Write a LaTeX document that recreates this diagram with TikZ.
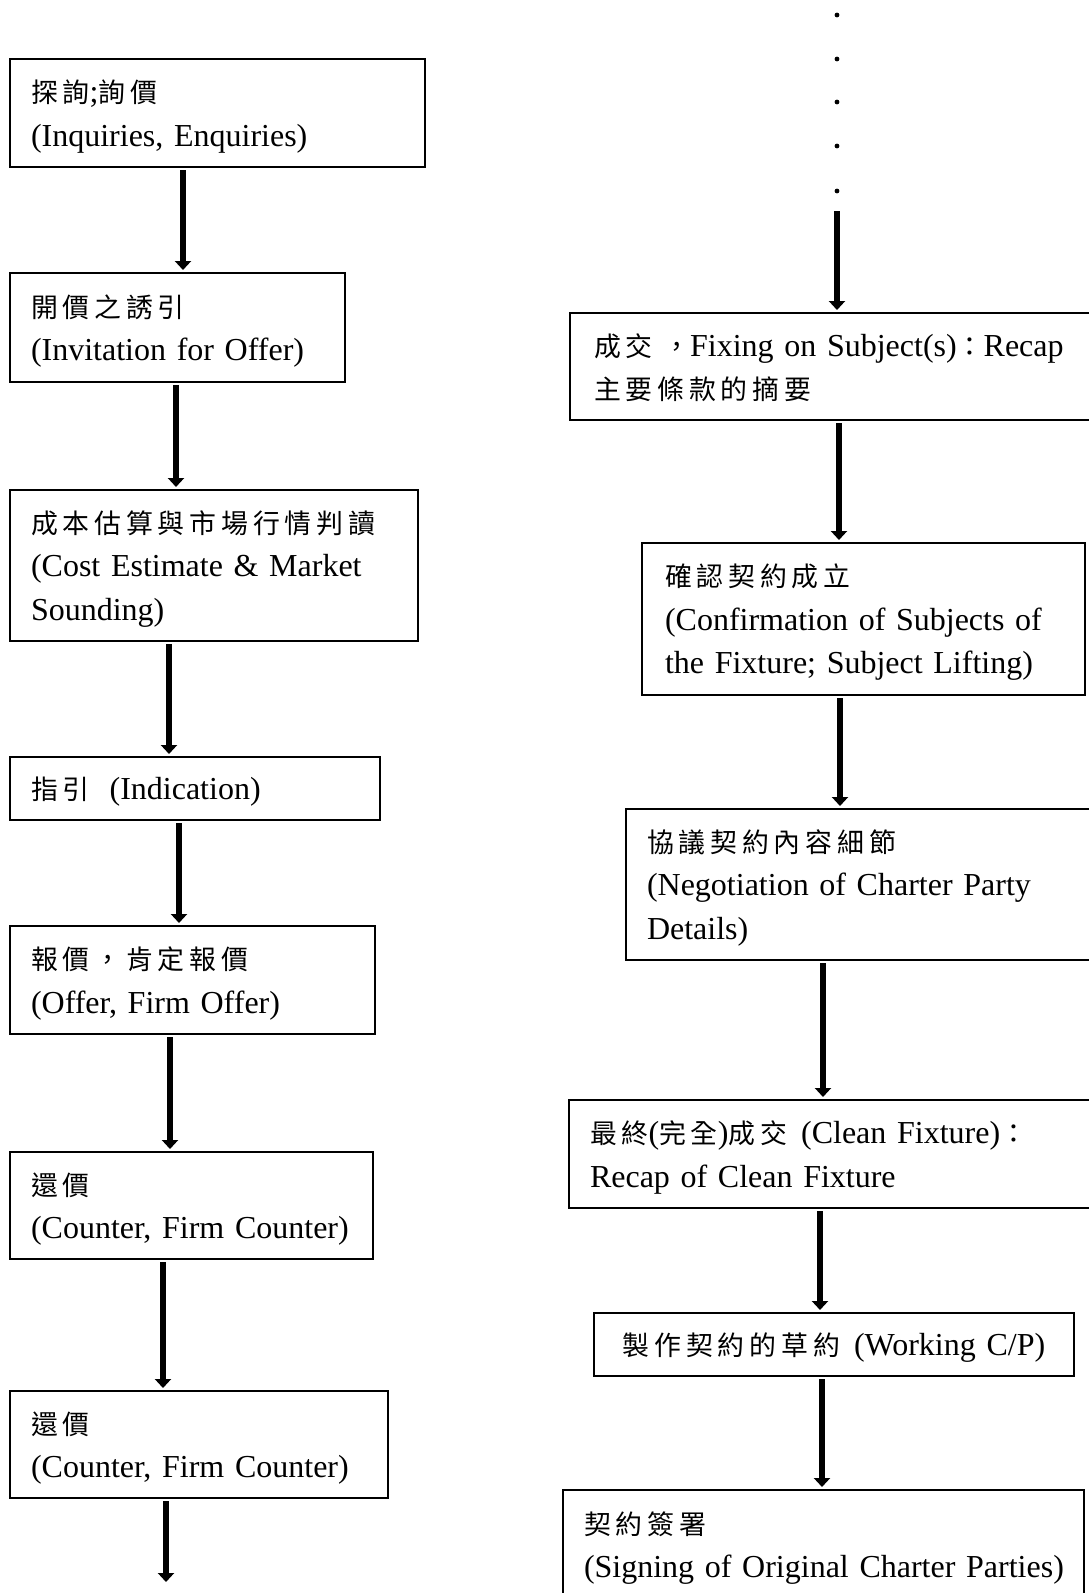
\documentclass[tikz,border=0pt]{standalone}
\usepackage{fontspec}
\setmainfont{Liberation Serif}
\newfontfamily\zhfont[Scale=0.84,LetterSpace=18]{Noto Sans CJK TC}
\usetikzlibrary{arrows.meta}
\newcommand{\zh}[1]{{\zhfont #1}}
\newcommand{\rowtxt}[1]{\mbox{\rule[-10.5pt]{0pt}{43.5pt}#1}}
\begin{document}
\begin{tikzpicture}[x=1pt,y=-1pt,
  box/.style={draw=black, line width=2pt, anchor=north west, align=left,
    inner ysep=0pt, inner xsep=21pt, font=\fontsize{32}{43.5}\selectfont},
  arr/.style={line width=6pt, -{Triangle[width=16pt,length=9pt]},
    shorten <=2pt, shorten >=2pt}]
\useasboundingbox (0,0) rectangle (1089,1593);
\clip (0,0) rectangle (1089,1593);
\fill[white] (0,0) rectangle (1089,1593);

% left column
\node[box, text width=373pt, minimum height=108pt] (b1) at (9,58)
  {\rowtxt{\zh{探詢};\zh{詢價}}\\\rowtxt{(Inquiries, Enquiries)}};
\node[box, text width=293pt, minimum height=109pt] (b2) at (9,272)
  {\rowtxt{\zh{開價之誘引}}\\\rowtxt{(Invitation for Offer)}};
\node[box, text width=366pt, minimum height=151pt] (b3) at (9,489)
  {\rowtxt{\zh{成本估算與市場行情判讀}}\\\rowtxt{(Cost Estimate \& Market}\\\rowtxt{Sounding)}};
\node[box, text width=328pt, minimum height=63pt] (b4) at (9,756)
  {\rowtxt{\zh{指引}\hspace{20pt}(Indication)}};
\node[box, text width=323pt, minimum height=108pt] (b5) at (9,925)
  {\rowtxt{\zh{報價，肯定報價}}\\\rowtxt{(Offer, Firm Offer)}};
\node[box, text width=321pt, minimum height=107pt] (b6) at (9,1151)
  {\rowtxt{\zh{還價}}\\\rowtxt{(Counter, Firm Counter)}};
\node[box, text width=336pt, minimum height=107pt] (b7) at (9,1390)
  {\rowtxt{\zh{還價}}\\\rowtxt{(Counter, Firm Counter)}};

% right column
\node[box, inner xsep=24pt, text width=492pt, minimum height=107pt] (r1) at (569,312)
  {\rowtxt{\zh{成交 ，}Fixing on Subject(s)\zh{：}Recap}\\\rowtxt{\zh{主要條款的摘要}}};
\node[box, inner xsep=23pt, text width=397pt, minimum height=152pt] (r2) at (641,542)
  {\rowtxt{\zh{確認契約成立}}\\\rowtxt{(Confirmation of Subjects of}\\\rowtxt{the Fixture; Subject Lifting)}};
\node[box, text width=438pt, minimum height=151pt] (r3) at (625,808)
  {\rowtxt{\zh{協議契約內容細節}}\\\rowtxt{(Negotiation of Charter Party}\\\rowtxt{Details)}};
\node[box, text width=498pt, minimum height=108pt] (r4) at (568,1099)
  {\rowtxt{\zh{最終}(\zh{完全})\zh{成交}\hspace{14pt}(Clean Fixture)\zh{：}}\\\rowtxt{Recap of Clean Fixture}};
\node[box, inner xsep=20pt, text width=440pt, align=center, minimum height=63pt] (r5) at (593,1312)
  {\rowtxt{\zh{製作契約的草約}\hspace{14pt}(Working C/P)}};
\node[box, text width=479pt, minimum height=109pt] (r6) at (562,1489)
  {\rowtxt{\zh{契約簽署}}\\\rowtxt{(Signing of Original Charter Parties)}};

% arrow columns
\coordinate (xa) at (183,0);
\coordinate (xb) at (176,0);
\coordinate (xc) at (169,0);
\coordinate (xd) at (179,0);
\coordinate (xe) at (170,0);
\coordinate (xf) at (163,0);
\coordinate (lend) at (166,1582);
\coordinate (rtop) at (837,211);
\coordinate (xg) at (839,0);
\coordinate (xh) at (840,0);
\coordinate (xi) at (823,0);
\coordinate (xj) at (820,0);
\coordinate (xk) at (822,0);

\draw[arr] (b1.south -| xa) -- (b2.north -| xa);
\draw[arr] (b2.south -| xb) -- (b3.north -| xb);
\draw[arr] (b3.south -| xc) -- (b4.north -| xc);
\draw[arr] (b4.south -| xd) -- (b5.north -| xd);
\draw[arr] (b5.south -| xe) -- (b6.north -| xe);
\draw[arr] (b6.south -| xf) -- (b7.north -| xf);
\draw[arr, shorten >=0pt] (b7.south -| lend) -- (lend);

\foreach \yy in {15,59,102,146,191} \fill (837,\yy) circle (2.4pt);
\draw[arr, shorten <=0pt] (rtop) -- (r1.north -| rtop);
\draw[arr] (r1.south -| xg) -- (r2.north -| xg);
\draw[arr] (r2.south -| xh) -- (r3.north -| xh);
\draw[arr] (r3.south -| xi) -- (r4.north -| xi);
\draw[arr] (r4.south -| xj) -- (r5.north -| xj);
\draw[arr] (r5.south -| xk) -- (r6.north -| xk);
\end{tikzpicture}
\end{document}
